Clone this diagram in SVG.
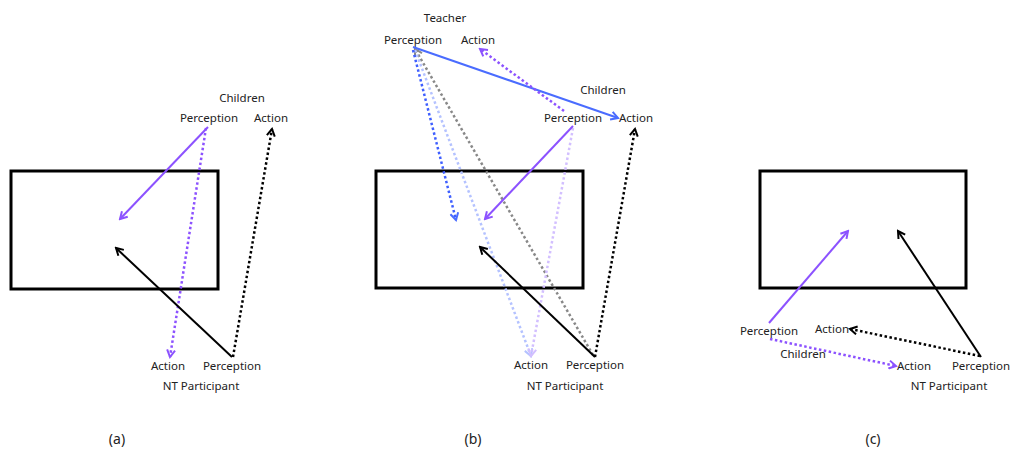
<svg xmlns="http://www.w3.org/2000/svg" width="1011" height="451" viewBox="0 0 1011 451">
<style>
text{font-family:"Noto Sans","Open Sans",sans-serif;font-size:11.5px;fill:#222;text-anchor:middle}
.cap{font-size:14px}
.box{fill:none;stroke:#000;stroke-width:3}
.ln{fill:none;stroke-width:2}
.dot{stroke-width:2.5;stroke-dasharray:2.5 2.5}
</style>
<defs>
<marker id="mP" viewBox="0 0 10 10" refX="8" refY="5" markerWidth="10" markerHeight="10" markerUnits="userSpaceOnUse" orient="auto"><path d="M1,1 L8,5 L1,9" fill="none" stroke="#8c52ff" stroke-width="2"/></marker>
<marker id="mK" viewBox="0 0 10 10" refX="8" refY="5" markerWidth="10" markerHeight="10" markerUnits="userSpaceOnUse" orient="auto"><path d="M1,1 L8,5 L1,9" fill="none" stroke="#000" stroke-width="2"/></marker>
<marker id="mB" viewBox="0 0 10 10" refX="8" refY="5" markerWidth="10" markerHeight="10" markerUnits="userSpaceOnUse" orient="auto"><path d="M1,1 L8,5 L1,9" fill="none" stroke="#4a6cff" stroke-width="2"/></marker>
<marker id="mLB" viewBox="0 0 10 10" refX="8" refY="5" markerWidth="10" markerHeight="10" markerUnits="userSpaceOnUse" orient="auto"><path d="M1,1 L8,5 L1,9" fill="none" stroke="#b4c2ff" stroke-width="2"/></marker>
<marker id="mLP" viewBox="0 0 10 10" refX="8" refY="5" markerWidth="10" markerHeight="10" markerUnits="userSpaceOnUse" orient="auto"><path d="M1,1 L8,5 L1,9" fill="none" stroke="#d2bfff" stroke-width="2"/></marker>
<marker id="mG" viewBox="0 0 10 10" refX="8" refY="5" markerWidth="10" markerHeight="10" markerUnits="userSpaceOnUse" orient="auto"><path d="M1,1 L8,5 L1,9" fill="none" stroke="#888" stroke-width="2"/></marker>
</defs>

<!-- Panel (a) -->
<g id="a-box"><rect class="box" x="11" y="171" width="207" height="118"/></g>
<g id="a-children"><text x="242" y="102">Children</text><text x="209" y="122">Perception</text><text x="271" y="122">Action</text></g>
<g id="a-nt"><text x="168" y="370">Action</text><text x="232" y="370">Perception</text><text x="201" y="390">NT Participant</text></g>
<g id="a-connectors">
<line class="ln" stroke="#8c52ff" x1="208" y1="127" x2="120" y2="219" marker-end="url(#mP)"/>
<line class="ln dot" stroke="#8c52ff" x1="206" y1="128" x2="170" y2="357" marker-end="url(#mP)"/>
<line class="ln" stroke="#000" x1="232" y1="357" x2="116" y2="248" marker-end="url(#mK)"/>
<line class="ln dot" stroke="#000" x1="233" y1="357" x2="272" y2="129" marker-end="url(#mK)"/>
</g>
<text class="cap" x="117" y="444">(a)</text>

<!-- Panel (b) -->
<g id="b-box"><rect class="box" x="376" y="171" width="207" height="117"/></g>
<g id="b-teacher"><text x="445" y="22">Teacher</text><text x="413" y="44">Perception</text><text x="478" y="44">Action</text></g>
<g id="b-children"><text x="603" y="94">Children</text><text x="573" y="122">Perception</text><text x="636" y="122">Action</text></g>
<g id="b-nt"><text x="531" y="369">Action</text><text x="595" y="369">Perception</text><text x="565" y="390">NT Participant</text></g>
<g id="b-connectors">
<line class="ln dot" stroke="#888" x1="593" y1="355" x2="415" y2="49" marker-end="url(#mG)"/>
<line class="ln dot" stroke="#b4c2ff" x1="415" y1="50" x2="531" y2="356" marker-end="url(#mLB)"/>
<line class="ln dot" stroke="#d2bfff" x1="573" y1="128" x2="531" y2="356" marker-end="url(#mLP)"/>
<line class="ln dot" stroke="#3f5fff" x1="413" y1="50" x2="456" y2="220" marker-end="url(#mB)"/>
<line class="ln" stroke="#4a6cff" x1="413" y1="47" x2="618" y2="118" marker-end="url(#mB)"/>
<line class="ln dot" stroke="#8c52ff" x1="564" y1="111" x2="480" y2="49" marker-end="url(#mP)"/>
<line class="ln" stroke="#8c52ff" x1="573" y1="126" x2="485" y2="219" marker-end="url(#mP)"/>
<line class="ln" stroke="#000" x1="595" y1="357" x2="480" y2="247" marker-end="url(#mK)"/>
<line class="ln dot" stroke="#000" x1="595" y1="357" x2="635" y2="129" marker-end="url(#mK)"/>
</g>
<text class="cap" x="473" y="444">(b)</text>

<!-- Panel (c) -->
<g id="c-box"><rect class="box" x="760" y="171" width="206" height="117"/></g>
<g id="c-children"><text x="769" y="335">Perception</text><text x="832" y="333">Action</text><text x="803" y="358">Children</text></g>
<g id="c-nt"><text x="914" y="370">Action</text><text x="981" y="370">Perception</text><text x="949" y="390">NT Participant</text></g>
<g id="c-connectors">
<line class="ln" stroke="#8c52ff" x1="769" y1="323" x2="848" y2="231" marker-end="url(#mP)"/>
<line class="ln dot" stroke="#8c52ff" x1="770" y1="339" x2="896" y2="366" marker-end="url(#mP)"/>
<line class="ln" stroke="#000" x1="981" y1="357" x2="898" y2="231" marker-end="url(#mK)"/>
<line class="ln dot" stroke="#000" x1="980" y1="356" x2="850" y2="329" marker-end="url(#mK)"/>
</g>
<text class="cap" x="873" y="444">(c)</text>
</svg>
